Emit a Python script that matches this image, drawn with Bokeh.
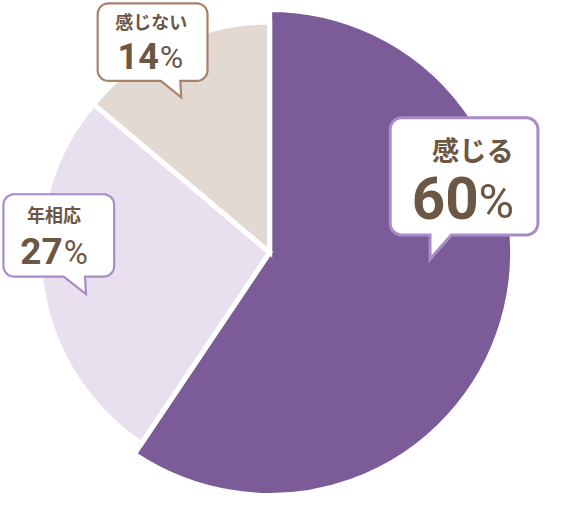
import numpy as np
from bokeh.plotting import figure
from bokeh.models import ColumnDataSource, Range1d
from bokeh.core.properties import value
from bokeh.embed import file_html
from bokeh.resources import INLINE

# ---- data ----
categories = ["感じる", "年相応", "感じない"]
values = [60, 27, 14]
value_labels = ["60", "27", "14"]
slice_colors = ["#7B5C98", "#E8E0EE", "#E2D9D3"]

# design space (reference pixels, y downward)
DW, DH = 567, 514
FW, FH = 551, 498
S = FW / DW


def Y(y):
    return DH - y


p = figure(width=FW, height=FH, x_range=Range1d(0, DW), y_range=Range1d(0, DH),
           output_backend="svg", toolbar_location=None, min_border=0)
p.axis.visible = False
p.grid.visible = False
p.outline_line_color = None
p.background_fill_color = "white"
p.border_fill_color = "white"

# ---- pie ----
frac = np.array(values, dtype=float) / sum(values)
cum = np.concatenate([[0.0], np.cumsum(frac)])
start = np.pi / 2 - 2 * np.pi * cum[:-1]
end = np.pi / 2 - 2 * np.pi * cum[1:]
radii = [250, 237, 237]
cx, cy = 277, 260

src = ColumnDataSource(dict(start=start, end=end, color=slice_colors, r=radii,
                            cat=categories, val=values))
p.wedge(x=cx, y=Y(cy), radius="r", start_angle="start", end_angle="end",
        direction="clock", fill_color="color", line_color="white", line_width=5,
        line_join="miter", source=src)


# ---- speech bubbles ----
def bubble(x0, y0, x1, y1, r, tail, n=10):
    pts = []

    def arc(cxx, cyy, a0, a1):
        for t in np.linspace(a0, a1, n):
            pts.append((cxx + r * np.cos(t), cyy + r * np.sin(t)))
    arc(x0 + r, y0 + r, np.pi, 1.5 * np.pi)          # top-left
    arc(x1 - r, y0 + r, 1.5 * np.pi, 2 * np.pi)      # top-right
    arc(x1 - r, y1 - r, 0, 0.5 * np.pi)              # bottom-right
    for t in tail:
        pts.append(t)
    arc(x0 + r, y1 - r, 0.5 * np.pi, np.pi)          # bottom-left
    xs = [q[0] for q in pts]
    ys = [Y(q[1]) for q in pts]
    return xs, ys


bubbles = [
    dict(box=(401, 121, 553, 242), r=12, tail=[(464, 242), (442, 267), (442, 242)],
         color="#A98BC8", lw=3),
    dict(box=(3, 200, 117, 285), r=11, tail=[(87, 285), (88, 303), (65, 285)],
         color="#A98BC8", lw=2.2),
    dict(box=(100, 3, 213, 83), r=11, tail=[(185, 83), (186, 100), (165, 83)],
         color="#A8826A", lw=2.2),
]
for b in bubbles:
    xs, ys = bubble(*b["box"], b["r"], b["tail"])
    p.patch(xs, ys, fill_color="white", line_color=b["color"], line_width=b["lw"],
            line_join="miter")

TEXT = "#6B5744"
JP = value("Noto Sans CJK JP")
NUM = value("Roboto")

# category labels
cat_pos = [(486, 153, 28), (55, 220, 18.5), (155, 21, 18.5)]
for cat, (x, y, fs) in zip(categories, cat_pos):
    p.text(x=[x], y=[Y(y)], text=[cat], text_font=JP, text_font_style="bold",
           text_font_size=value(f"{fs * S:.1f}px"), text_color=TEXT,
           text_align="center", text_baseline="middle")

# value labels: (x split, baseline y, number size, percent size, gap)
num_pos = [(492, 225, 60, 50, 0), (64, 272, 38, 34, 1), (163, 70, 37, 33, 1)]
for lab, (x, yb, fs, ps, g) in zip(value_labels, num_pos):
    p.text(x=[x], y=[Y(yb - 0.345 * fs)], text=[lab], text_font=NUM,
           text_font_style="bold", text_font_size=value(f"{fs * S:.1f}px"),
           text_color=TEXT, text_align="right", text_baseline="middle")
    p.text(x=[x + g], y=[Y(yb - 0.345 * ps)], text=["%"], text_font=NUM,
           text_font_style="normal", text_font_size=value(f"{ps * S:.1f}px"),
           text_color=TEXT, text_align="left", text_baseline="middle")

open("out.html", "w").write(file_html(p, INLINE))
